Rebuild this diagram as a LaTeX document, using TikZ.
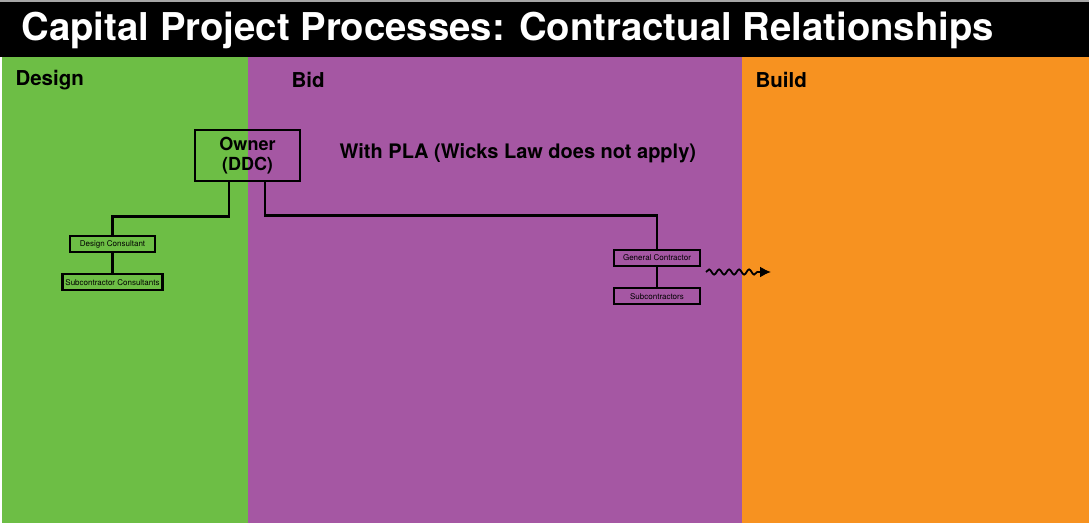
\documentclass[tikz,border=0pt]{standalone}
\usepackage{fontspec}
\setmainfont{TeX Gyre Heros}
\usetikzlibrary{positioning,decorations.pathmorphing,arrows.meta}
\definecolor{designgreen}{RGB}{109,190,69}
\definecolor{bidpurple}{RGB}{165,87,163}
\definecolor{buildorange}{RGB}{247,146,32}
\tikzset{
  phase/.style={anchor=west, font=\fontsize{20.5}{23}\selectfont\bfseries},
  bigbox/.style={draw, line width=2.6pt, minimum width=105pt, minimum height=51pt,
    align=center, inner sep=0pt, font=\fontsize{18}{20.5}\selectfont\bfseries},
  smallbox/.style={draw, line width=2.2pt, minimum height=16pt, inner sep=0pt,
    font=\fontsize{8}{9}\selectfont},
  link/.style={line width=2.4pt}
}
\begin{document}
\begin{tikzpicture}[x=1pt, y=-1pt, node distance=20pt]
  \useasboundingbox (0,0) rectangle (1089,523);
  % background bands
  \fill[black!35] (0,0) rectangle (1089,2);
  \fill[black] (0,2) rectangle (1089,57);
  \fill[designgreen] (2,57) rectangle (248,523);
  \fill[bidpurple] (248,57) rectangle (742,523);
  \fill[buildorange] (742,57) rectangle (1089,523);
  \node (title) [anchor=west, text=white, font=\fontsize{38.3}{40}\selectfont\bfseries]
    at (18,30) {Capital Project Processes: Contractual Relationships};
  \node (design) [phase] at (12,80) {Design};
  \node (bid) [phase] at (288,80) {Bid};
  \node (build) [phase] at (752,80) {Build};
  \node (pla) [anchor=west, font=\fontsize{20}{22}\selectfont\bfseries]
    at (336,153) {With PLA (Wicks Law does not apply)};
  % contract tree
  \node (owner) [bigbox] at (247.5,155.5) {Owner\\(DDC)};
  \node (dc) [smallbox, minimum width=85pt] at (112.5,244) {Design Consultant};
  \node (sc) [smallbox, minimum width=100pt, below=of dc] {Subcontractor Consultants};
  \node (gc) [smallbox, minimum width=86pt] at (657,258) {General Contractor};
  \node (sub) [smallbox, minimum width=86pt, below=of gc] {Subcontractors};
  \draw[link] ([xshift=-18.5pt]owner.south) -- ++(0,34) -| (dc.north);
  \draw[link] (dc) -- (sc);
  \draw[link] ([xshift=17.5pt]owner.south) -- ++(0,33) -| (gc.north);
  \draw[link] (gc) -- (sub);
  \coordinate (wavestart) at (706,272);
  \coordinate (waveend) at (771,272);
  \draw[line width=1.8pt, -{Latex[length=11pt,width=11pt]},
    decorate, decoration={snake, amplitude=2.6pt, segment length=10pt, post length=10pt}]
    (wavestart) -- (waveend);
\end{tikzpicture}
\end{document}
